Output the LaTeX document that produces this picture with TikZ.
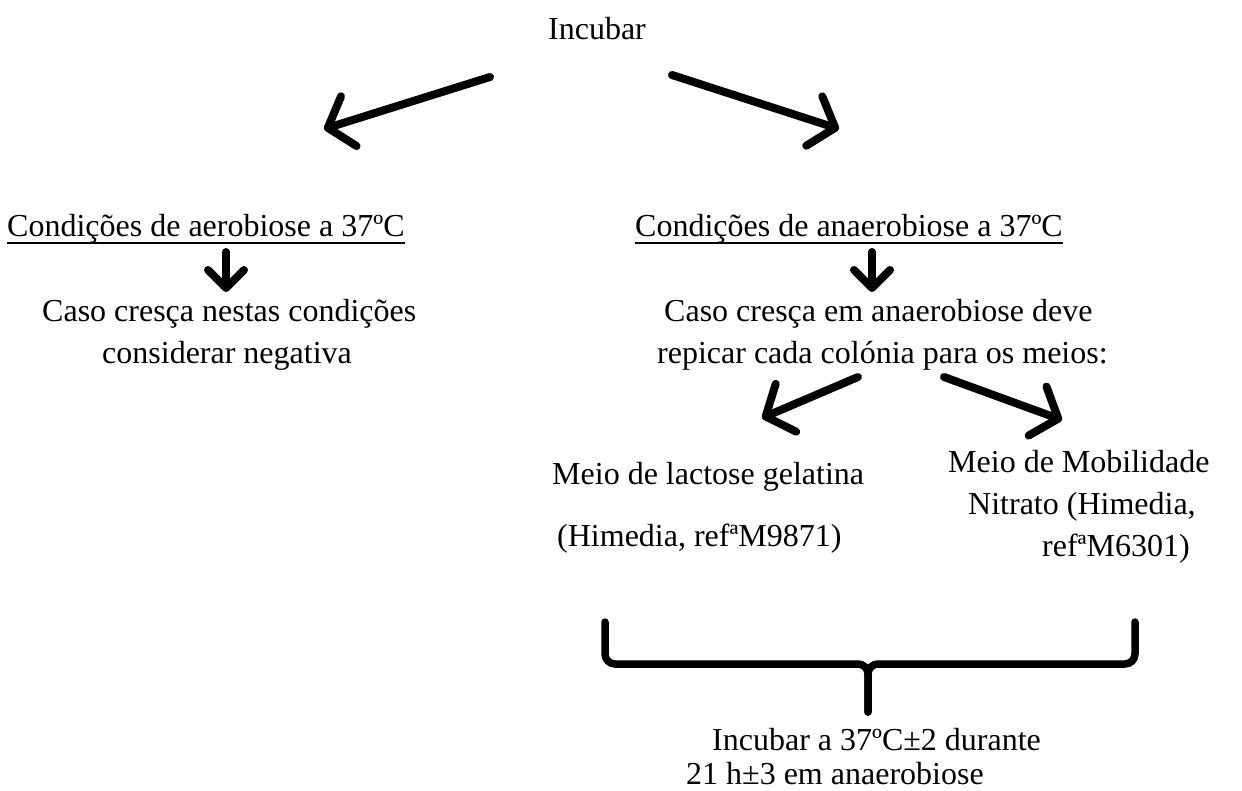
\documentclass[tikz,border=0pt]{standalone}
\usepackage{fontspec}
\setmainfont{Liberation Serif}
\usetikzlibrary{arrows.meta}
\begin{document}
\begin{tikzpicture}[x=1pt,y=-1pt,
  txt/.style={inner sep=0pt, anchor=base west, font=\fontsize{32}{40}\selectfont},
  shade/.style={preaction={draw=black!28, transform canvas={shift={(2pt,-3pt)}}}},
  bigarrow/.style={line width=8pt, line cap=round, shade,
    -{Straight Barb[length=22pt, width=52pt, line cap=round, line join=round]}},
  downarrow/.style={line width=8pt, line cap=round, shade,
    -{Straight Barb[length=18pt, width=36pt, line cap=round, line join=round]}},
  brace/.style={line width=7.5pt, line cap=round, line join=round, rounded corners=10pt, shade},
  uline/.style={line width=1.4pt}]
\useasboundingbox (0,0) rectangle (1242,791);

% texts
\node[txt, anchor=base] (inc) at (597,40) {Incubar};
\node[txt] (hL) at (7,237) {Condições de aerobiose a 37ºC};
\node[txt] (hR) at (635,237) {Condições de anaerobiose a 37ºC};
\node[txt] (bL1) at (42,322) {Caso cresça nestas condições};
\node[txt] (bL2) at (102,364) {considerar negativa};
\node[txt] (bR1) at (664,322) {Caso cresça em anaerobiose deve};
\node[txt] (bR2) at (657,364) {repicar cada colónia para os meios:};
\node[txt] (m1) at (552,484) {Meio de lactose gelatina};
\node[txt] (m2) at (557,546) {(Himedia, refªM9871)};
\node[txt] (n1) at (948,472) {Meio de Mobilidade};
\node[txt] (n2) at (968,514) {Nitrato (Himedia,};
\node[txt] (n3) at (1042,556) {refªM6301)};
\node[txt] (f1) at (712,750) {Incubar a 37ºC±2 durante};
\node[txt] (f2) at (686,784) {21 h±3 em anaerobiose};

% underlines of the two headings
\draw[uline] ([yshift=-6pt]hL.base west) -- ([yshift=-6pt]hL.base east);
\draw[uline] ([yshift=-6pt]hR.base west) -- ([yshift=-6pt]hR.base east);

% arrow end points
\coordinate (aLs) at (490,77);  \coordinate (aLe) at (324,129);
\coordinate (aRs) at (672,75);  \coordinate (aRe) at (839,129);
\coordinate (dLs) at (226,252); \coordinate (dLe) at (226,292);
\coordinate (dRs) at (872,252); \coordinate (dRe) at (872,292);
\coordinate (sLs) at (858,377); \coordinate (sLe) at (762,418);
\coordinate (sRs) at (944,377); \coordinate (sRe) at (1062,420);

\draw[bigarrow] (aLs) -- (aLe);
\draw[bigarrow] (aRs) -- (aRe);
\draw[downarrow] (dLs) -- (dLe);
\draw[downarrow] (dRs) -- (dRe);
\draw[bigarrow] (sLs) -- (sLe);
\draw[bigarrow] (sRs) -- (sRe);

% brace joining the two media
\coordinate (brL) at (605,622);
\coordinate (brR) at (1135,622);
\coordinate (brM) at (868,712);
\draw[brace] (brL) -- (605,664) -- (brM |- 0,664) -- (brM);
\draw[brace] (brR) -- (1135,664) -- (brM |- 0,664) -- (brM);
\end{tikzpicture}
\end{document}
